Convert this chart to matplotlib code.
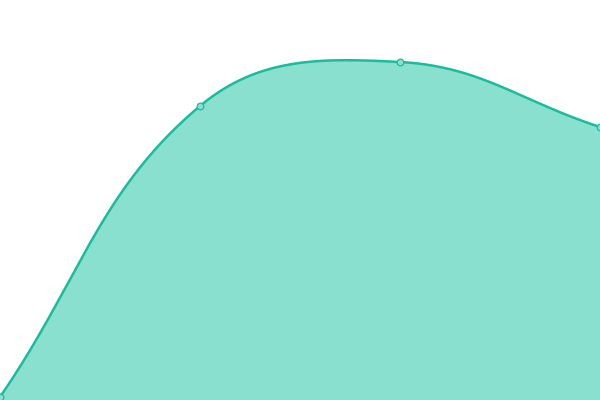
import numpy as np
import matplotlib
matplotlib.use("Agg")
import matplotlib.pyplot as plt

categories = [0, 1, 2, 3]
values = [3, 294, 338, 273]

LINE = "#1abc9c"
FILL = "#89e0cf"

fig = plt.figure(figsize=(6, 4), dpi=100)
ax = fig.add_axes([0, 0, 1, 1])
ax.set_xlim(0, 3)
ax.set_ylim(0, 400)
ax.axis("off")

# smoothing (cardinal spline with tension, control points capped to area)
px = np.array(categories, float) * 200.0
py = np.array(values, float)
pts = np.column_stack([px, py])
tension = 0.4
n = len(pts)
cp_prev = []
cp_next = []
for i in range(n):
    cur = pts[i]
    prev = pts[i - 1] if i > 0 else cur
    nxt = pts[i + 1] if i < n - 1 else cur
    d01 = np.hypot(*(cur - prev))
    d12 = np.hypot(*(nxt - cur))
    s01 = d01 / (d01 + d12) if (d01 + d12) else 0
    s12 = d12 / (d01 + d12) if (d01 + d12) else 0
    fa = tension * s01
    fb = tension * s12
    cp_prev.append(np.clip(cur - fa * (nxt - prev), [0, 0], [600, 400]))
    cp_next.append(np.clip(cur + fb * (nxt - prev), [0, 0], [600, 400]))

curve = []
t = np.linspace(0, 1, 100)[:, None]
for i in range(n - 1):
    p0, c0, c1, p1 = pts[i], cp_next[i], cp_prev[i + 1], pts[i + 1]
    b = ((1 - t) ** 3) * p0 + 3 * ((1 - t) ** 2) * t * c0 + 3 * (1 - t) * t ** 2 * c1 + t ** 3 * p1
    curve.append(b if i == 0 else b[1:])
curve = np.vstack(curve)
cx = curve[:, 0] / 200.0
cy = curve[:, 1]

ax.fill_between(cx, 0, cy, color=FILL, lw=0, zorder=1)
ax.plot(cx, cy, color=LINE, lw=1.8, zorder=2, solid_capstyle="round")
ax.plot(categories, values, "o", ms=4.8, mfc=FILL, mec=LINE, mew=0.9, zorder=3)

fig.savefig("out.png", dpi=100)
